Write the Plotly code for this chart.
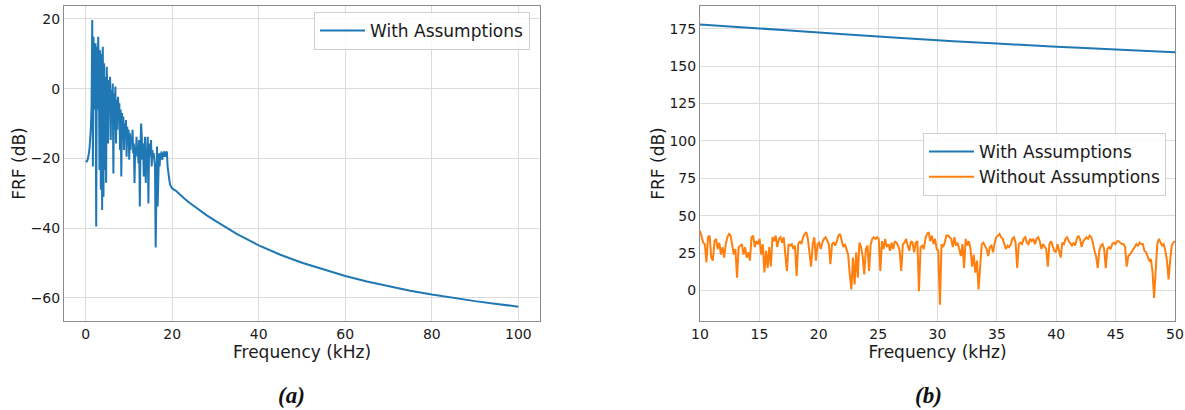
import numpy as np
import plotly.graph_objects as go

# ---------------- Panel (a): FRF with assumptions, 0-100 kHz ----------------
noisy_db_a = [
    -21, -21, -20.8, -20.4, -19.6, -18.5, -16.8, -14.7, -11, -5,
    19.7, -22.3, 14.9, -6, 11, 13, -39.5, 12, -6, 14.9,
    5, -23.3, 11, -29, 10, -34.8, 12, -31, 7.3, -23.3,
    3.4, -27, 6.3, -10, -15.7, 2.5, -7, 3.4, -14.7, -0.4,
    -9, 1.5, -24.3, -1.3, -11.8, 0.6, -15.7, -3.2, -11.8, -2.3,
    -7, -4.2, -17.6, -6, -25.2, -7, -13.8, -8, -17.6, -10,
    -13.8, -9, -19.5, -10.9, -15.7, -11.8, -20.4, -12.8, -17.6, -13.8,
    -15.7, -11.8, -18.5, -15.7, -27, -16.6, -19.5, -13.8, -18.5, -17.6,
    -21.4, -14.7, -33.8, -17.6, -10, -13.8, -20.4, -15.7, -25.2, -17.6,
    -13.8, -27, -18.5, -19.5, -13.8, -32.9, -17.6, -15.7, -19.5, -14.7,
    -22.3, -17.6, -19.5, -18.5, -20.4, -22.3, -45.5, -23.3, -16.6, -33.8,
    -19.5, -18.5, -22.3, -18.5, -19.5, -18, -20.4, -18.5, -19.5, -18,
    -18.5, -19.5, -18.5, -18, -22.3, -24.3, -25.2, -26.6, -27.6, -28.1,
    -28.4, -28.6,
]
smooth_freq_a = [21, 22, 23, 24, 26, 28, 30, 35, 40, 45, 50, 55, 60, 65, 70, 75, 80, 85, 90, 95, 100]
smooth_db_a = [-29.4, -30.6, -31.7, -32.7, -34.6, -36.3, -37.9, -41.7, -44.9, -47.6, -49.9, -51.9,
               -53.7, -55.3, -56.7, -57.9, -59.0, -60.0, -60.9, -61.7, -62.5]

# ---------------- Panel (b): 10-50 kHz comparison ----------------
with_freq_b = [10, 15, 20, 25, 30, 35, 40, 45, 50]
with_db_b = [177.9, 175.2, 172.4, 169.8, 167.3, 165.1, 163.0, 161.1, 159.3]

without_db_b = [
    # 10 - 20 kHz
    40, 35, 32, 31, 18.7, 35.6, 36.7, 22, 20, 33, 34.5, 27.7, 32, 24, 29, 22, 31, 35.6, 37.8, 36.7,
    31, 24, 27.7, 8.5, 29, 30, 31, 24, 29, 22, 25.5, 20, 35.6, 36.7, 29, 33, 31, 34.5, 24, 31,
    12, 26.6, 15, 29, 16, 35.6, 33, 36.7, 29, 34.5, 35.6, 32, 35.6, 24, 13, 31, 30, 31, 27.7, 30,
    9.7, 31, 33, 31, 35.6, 37.8, 39, 34.5, 24, 16, 31, 35.6, 20, 31,
    # 20 - 30 kHz
    32, 27.7, 32, 34.5, 35.6, 33, 31, 17.6, 31, 32, 30, 33, 36.7, 37.8, 33, 29, 31, 26.6, 24, 10.8,
    0.7, 22, 4, 25.5, 8.5, 32, 29, 23, 10.8, 27.7, 30, 13, 31, 34.5, 35.6, 34.5, 35.6, 34.5, 13, 33,
    27.7, 34.5, 29, 31, 26.6, 32, 27.7, 33, 32, 30, 26.6, 13, 31, 32, 34.5, 30, 26.6, 33, 32, 25.5,
    32, 33, -0.5, 29, 30, 27.7, 34.5, 37.8, 39, 33, 36.7, 31, 34.5, 27.7, 26.6, -9.5,
    # 30 - 40 kHz
    31, 29, 32, 36.7, 36.7, 35.6, 34.5, 29, 35.6, 30, 32, 27.7, 23, 31, 15, 34.5, 30, 33, 27.7, 16,
    24, 12, 20, 0.7, 20, 31, 32, 30, 27.7, 23, 29, 30, 25.5, 32, 35.6, 36.7, 37.8, 35.6, 34.5, 31,
    27.7, 30, 29, 31, 34.5, 35.6, 32, 15, 31, 32, 31, 34.5, 35.6, 32, 31, 34.5, 33, 34.5, 31, 34.5,
    35.6, 33, 27.7, 31, 29, 27.7, 16, 31, 33, 30, 26.6, 25.5, 31, 26.6, 22, 32,
    # 40 - 50 kHz
    31, 34.5, 35.6, 33, 31, 30, 32, 30, 34.5, 36.7, 34.5, 29, 33, 34.5, 35.6, 34.5, 36.7, 35.6, 32, 26.6,
    23, 15, 26.6, 30, 31, 27.7, 15, 27.7, 29, 27.7, 31, 32, 31, 33, 33, 32, 31, 31, 29, 16,
    23, 24, 25.5, 27.7, 29, 31, 30, 32, 31, 31, 26.6, 25.5, 23, 20, 21, 13, -5, 17.6, 31, 34.5,
    32, 30, 31, 26.6, 20, 7.4, 20, 30, 32, 33,
]

x_ticks_a = [0, 20, 40, 60, 80, 100]
y_ticks_a = [-60, -40, -20, 0, 20]
x_ticks_b = [10, 15, 20, 25, 30, 35, 40, 45, 50]
y_ticks_b = [0, 25, 50, 75, 100, 125, 150, 175]

BLUE = "#1f77b4"
ORANGE = "#ff7f0e"
FONT = "DejaVu Sans"

freq_a = np.concatenate([np.linspace(0, 20, len(noisy_db_a)), smooth_freq_a])
db_a = np.concatenate([noisy_db_a, smooth_db_a])
freq_b_wo = np.linspace(10, 50, len(without_db_b))

fig = go.Figure()
fig.add_trace(go.Scatter(x=freq_a, y=db_a, mode="lines", name="With Assumptions", showlegend=True,
                         line=dict(color=BLUE, width=2), xaxis="x", yaxis="y", legend="legend"))
fig.add_trace(go.Scatter(x=with_freq_b, y=with_db_b, mode="lines", name="With Assumptions", showlegend=True,
                         line=dict(color=BLUE, width=2, shape="spline"), xaxis="x2", yaxis="y2", legend="legend2"))
fig.add_trace(go.Scatter(x=freq_b_wo, y=without_db_b, mode="lines", name="Without Assumptions", showlegend=True,
                         line=dict(color=ORANGE, width=2), xaxis="x2", yaxis="y2", legend="legend2"))

W, H = 1185, 410
ydom = [(H - 321) / H, (H - 6) / H]

axis_common = dict(
    showgrid=True, gridcolor="#dcdcdc", gridwidth=1,
    showline=True, linecolor="#8c8c8c", linewidth=1, mirror=True,
    ticks="", automargin=False,
    tickfont=dict(family=FONT, size=14, color="#1a1a1a"),
    zeroline=False,
)
xtitle = dict(text="Frequency (kHz)", font=dict(family=FONT, size=17), standoff=0)
ytitle = dict(text="FRF (dB)", font=dict(family=FONT, size=17), standoff=0)

legend_common = dict(visible=True, bgcolor="rgba(255,255,255,0.85)", bordercolor="#d0d0d0",
                     borderwidth=1, itemwidth=45, font=dict(family=FONT, size=17, color="#1a1a1a"))

fig.update_layout(
    width=W, height=H,
    margin=dict(l=0, r=0, t=0, b=0, autoexpand=False),
    paper_bgcolor="white", plot_bgcolor="white",
    font=dict(family=FONT, color="#1a1a1a"),
    showlegend=True,
    xaxis=dict(domain=[64 / W, 540 / W], anchor="y", range=[-5, 105], tickvals=x_ticks_a,
               title=xtitle, **axis_common),
    yaxis=dict(domain=ydom, anchor="x", range=[-66.6, 23.7], tickvals=y_ticks_a,
               ticktext=["\u221260", "\u221240", "\u221220", "0", "20"],
               title=ytitle, **axis_common),
    xaxis2=dict(domain=[700 / W, 1175 / W], anchor="y2", range=[10, 50], tickvals=x_ticks_b,
                title=xtitle, **axis_common),
    yaxis2=dict(domain=ydom, anchor="x2", range=[-20.4, 190.2], tickvals=y_ticks_b,
                title=ytitle, **axis_common),
    legend=dict(x=530 / W, xanchor="right", y=(H - 12) / H, yanchor="top", **legend_common),
    legend2=dict(x=1166 / W, xanchor="right", y=(H - 133) / H, yanchor="top", **legend_common),
    annotations=[
        dict(text="<b><i>(a)</i></b>", x=291 / W, y=(H - 395) / H, xref="paper", yref="paper",
             xanchor="center", yanchor="middle",
             showarrow=False, font=dict(family="Liberation Serif", size=23, color="#111")),
        dict(text="<b><i>(b)</i></b>", x=928 / W, y=(H - 395) / H, xref="paper", yref="paper",
             xanchor="center", yanchor="middle",
             showarrow=False, font=dict(family="Liberation Serif", size=23, color="#111")),
    ],
)

fig.write_html("out.html")
